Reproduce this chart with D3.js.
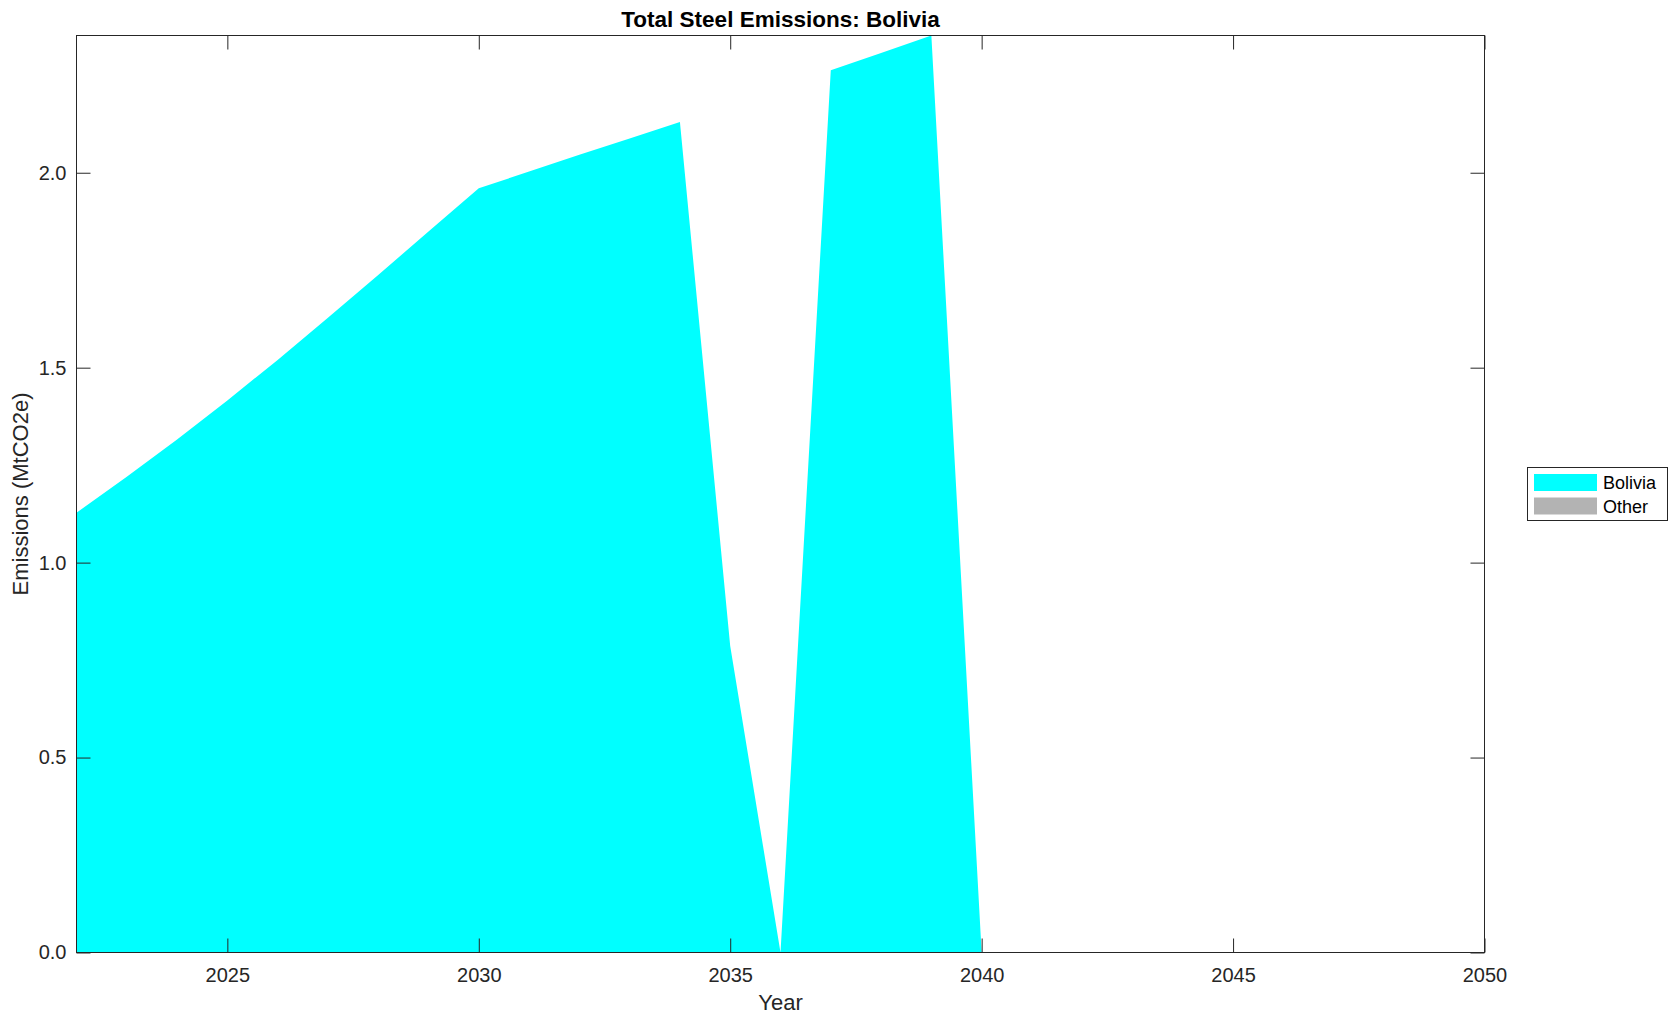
<!DOCTYPE html>
<html>
<head>
<meta charset="utf-8">
<script src="https://cdn.jsdelivr.net/npm/d3@7"></script>
<style>
  html, body { margin: 0; padding: 0; background: #ffffff; }
  svg { display: block; font-family: "Liberation Sans", Arial, Helvetica, sans-serif; }
</style>
</head>
<body>
<svg id="chart" width="1678" height="1021"></svg>
<script>
// ---- data ----
const years = [2022, 2023, 2024, 2025, 2026, 2027, 2028, 2029, 2030, 2031, 2032, 2033, 2034, 2035, 2036,
               2037, 2038, 2039, 2040, 2041, 2042, 2043, 2044, 2045, 2046, 2047, 2048, 2049, 2050];
const boliviaValues = [1.128, 1.22, 1.316, 1.416, 1.52, 1.628, 1.738, 1.849, 1.96, 2.003, 2.046, 2.088, 2.130, 0.786, 0,
                       2.263, 2.307, 2.352, 0, 0, 0, 0, 0, 0, 0, 0, 0, 0, 0];
const otherValues = [0, 0, 0, 0, 0, 0, 0, 0, 0, 0, 0, 0, 0, 0, 0,
                     0, 0, 0, 0, 0, 0, 0, 0, 0, 0, 0, 0, 0, 0];
const seriesNames = ["Bolivia", "Other"];
const seriesColors = ["#00ffff", "#b3b3b3"];
const xTickValues = [2025, 2030, 2035, 2040, 2045, 2050];
const yTickValues = [0, 0.5, 1.0, 1.5, 2.0];
const titleText = "Total Steel Emissions: Bolivia";
const xLabel = "Year";
const yLabel = "Emissions (MtCO2e)";

(function () {
  // ---- layout ----
  const pLeft = 76.5, pRight = 1484.5, pTop = 35.5, pBottom = 952.5;
  const axisColor = "#262626";

  const rows = years.map((yr, i) => ({ year: yr, Bolivia: boliviaValues[i], Other: otherValues[i] }));
  const stacked = d3.stack().keys(seriesNames)(rows);
  const yMax = d3.max(rows, d => d.Bolivia + d.Other);

  const x = d3.scaleLinear().domain([years[0], years[years.length - 1]]).range([pLeft, pRight]);
  const y = d3.scaleLinear().domain([0, yMax]).range([pBottom, pTop]);

  const svg = d3.select("#chart");

  // areas
  const area = d3.area()
    .x(d => x(d.data.year))
    .y0(d => y(d[0]))
    .y1(d => y(d[1]));

  svg.append("g").selectAll("path")
    .data(stacked)
    .join("path")
    .attr("d", area)
    .attr("fill", (d, i) => seriesColors[i])
    .attr("stroke", "none");

  // axes (box with inward ticks)
  const tickLen = 14;
  const fontTick = 20;

  const xAxisBottom = d3.axisBottom(x).tickValues(xTickValues).tickSizeInner(-tickLen).tickSizeOuter(0)
    .tickPadding(15).tickFormat(d3.format("d"));
  const gxb = svg.append("g").attr("transform", `translate(0,${pBottom})`).call(xAxisBottom);

  const xAxisTop = d3.axisTop(x).tickValues(xTickValues).tickSizeInner(-tickLen).tickSizeOuter(0).tickFormat("");
  const gxt = svg.append("g").attr("transform", `translate(0,${pTop})`).call(xAxisTop);

  const yAxisLeft = d3.axisLeft(y).tickValues(yTickValues).tickSizeInner(-tickLen).tickSizeOuter(0)
    .tickPadding(10).tickFormat(d3.format(".1f"));
  const gyl = svg.append("g").attr("transform", `translate(${pLeft},0)`).call(yAxisLeft);

  const yAxisRight = d3.axisRight(y).tickValues(yTickValues).tickSizeInner(-tickLen).tickSizeOuter(0).tickFormat("");
  const gyr = svg.append("g").attr("transform", `translate(${pRight},0)`).call(yAxisRight);

  [gxb, gxt, gyl, gyr].forEach(g => {
    g.select(".domain").remove();
    g.selectAll(".tick line").attr("stroke", axisColor).attr("stroke-width", 1);
    g.selectAll(".tick text").attr("fill", axisColor)
      .style("font-size", fontTick + "px")
      .style("font-family", '"Liberation Sans", Arial, Helvetica, sans-serif');
  });
  gxb.selectAll(".tick text").attr("dy", "0.71em");

  // box
  svg.append("rect")
    .attr("x", pLeft).attr("y", pTop)
    .attr("width", pRight - pLeft).attr("height", pBottom - pTop)
    .attr("fill", "none").attr("stroke", axisColor).attr("stroke-width", 1);

  // title
  svg.append("text")
    .attr("x", (pLeft + pRight) / 2).attr("y", 27)
    .attr("text-anchor", "middle")
    .style("font-size", "22.5px").style("font-weight", "bold")
    .attr("fill", "#000")
    .text(titleText);

  // axis labels
  svg.append("text")
    .attr("x", (pLeft + pRight) / 2).attr("y", 1010)
    .attr("text-anchor", "middle")
    .style("font-size", "22px")
    .attr("fill", axisColor)
    .text(xLabel);

  svg.append("text")
    .attr("transform", `translate(27.5,${(pTop + pBottom) / 2}) rotate(-90)`)
    .attr("text-anchor", "middle")
    .style("font-size", "22px")
    .attr("fill", axisColor)
    .text(yLabel);

  // legend
  const lg = svg.append("g");
  lg.append("rect")
    .attr("x", 1527.5).attr("y", 467.5).attr("width", 140).attr("height", 53)
    .attr("fill", "#fff").attr("stroke", axisColor).attr("stroke-width", 1);
  seriesNames.forEach((name, i) => {
    const yy = 474 + i * 23.5;
    lg.append("rect")
      .attr("x", 1534).attr("y", yy).attr("width", 63).attr("height", 17)
      .attr("fill", seriesColors[i]);
    lg.append("text")
      .attr("x", 1603).attr("y", yy + 15)
      .style("font-size", "18px")
      .attr("fill", "#000")
      .text(name);
  });
})();
</script>
</body>
</html>
